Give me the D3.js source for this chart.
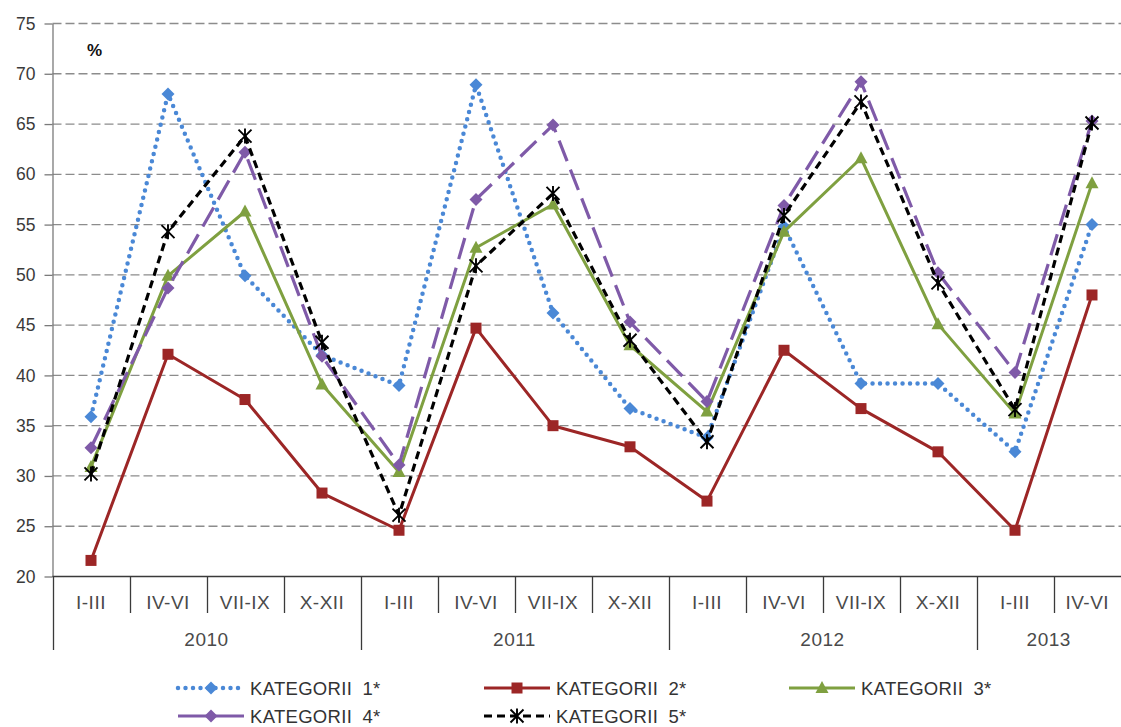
<!DOCTYPE html>
<html><head><meta charset="utf-8">
<script src="https://cdn.jsdelivr.net/npm/d3@7"></script>
<style>
body{margin:0;background:#fff;}
svg{display:block;font-family:"Liberation Sans",Arial,sans-serif;}
</style>
</head><body>
<svg id="chart" width="1121" height="727"></svg>
<script>
// ---- data ----
const quarters = ["I-III","IV-VI","VII-IX","X-XII","I-III","IV-VI","VII-IX","X-XII","I-III","IV-VI","VII-IX","X-XII","I-III","IV-VI"];
const years    = ["2010","2010","2010","2010","2011","2011","2011","2011","2012","2012","2012","2012","2013","2013"];
const yTicks   = [20,25,30,35,40,45,50,55,60,65,70,75];
const seriesNames = ["KATEGORII 1*","KATEGORII 2*","KATEGORII 3*","KATEGORII 4*","KATEGORII 5*"];
const kat1 = [35.9,68.0,49.9,42.0, 39.0,68.9,46.2,36.7, 33.8,54.8,39.2,39.2, 32.4,55.0];
const kat2 = [21.6,42.1,37.6,28.3, 24.6,44.7,35.0,32.9, 27.5,42.5,36.7,32.4, 24.6,48.0];
const kat3 = [30.9,49.9,56.3,39.1, 30.4,52.7,57.0,43.0, 36.4,54.3,61.6,45.1, 36.2,59.1];
const kat4 = [32.8,48.7,62.2,41.9, 31.1,57.5,64.9,45.3, 37.4,56.9,69.2,50.2, 40.3,65.3];
const kat5 = [30.2,54.3,63.8,43.3, 26.1,50.9,58.1,43.5, 33.4,55.9,67.2,49.2, 36.6,65.1];
const unitLabel = "%";

// ---- styles ----
const styles = [
  {color:"#4a88d6", width:4.5, dash:"0,7.5", cap:"round", marker:"diamond", legendDash:"0,7.5"},
  {color:"#9c2626", width:3,   dash:null,    cap:"butt",  marker:"square",  legendDash:null},
  {color:"#7fa040", width:3,   dash:null,    cap:"butt",  marker:"triangle",legendDash:null},
  {color:"#7f5aa8", width:3.2, dash:"22,9",  cap:"butt",  marker:"diamond", legendDash:null},
  {color:"#000000", width:3.2, dash:"8,5",   cap:"butt",  marker:"star",    legendDash:"8,5"}
];
const seriesData = [kat1,kat2,kat3,kat4,kat5];

const W = 1121, H = 727;
const svg = d3.select("#chart");
const idx = d3.range(quarters.length);
const x = d3.scaleBand().domain(idx).range([52.5, 1130.5]);
const y = d3.scaleLinear().domain([20,75]).range([576.5, 23.5]);
const cx = i => x(i) + x.bandwidth()/2;

// gridlines
svg.append("g").selectAll("line").data(yTicks.filter(t=>t>20)).join("line")
  .attr("x1",52.5).attr("x2",W).attr("y1",d=>y(d)).attr("y2",d=>y(d))
  .attr("stroke","#8c8c8c").attr("stroke-width",1.3).attr("stroke-dasharray","9,4");

// y axis
const yAxis = svg.append("g").attr("transform","translate(52.5,0)")
  .call(d3.axisLeft(y).tickValues(yTicks).tickSize(8).tickSizeOuter(0).tickPadding(9));
yAxis.select(".domain").attr("stroke","#7a7a7a").attr("stroke-width",1.3);
yAxis.selectAll(".tick line").attr("stroke","#7a7a7a").attr("stroke-width",1.3);
yAxis.selectAll(".tick text").attr("fill","#3a3a3a").style("font-size","17.5px")
  .style("font-family","'Liberation Sans',Arial,sans-serif");

// x axis line
svg.append("line").attr("x1",52.5).attr("x2",W).attr("y1",y(20)).attr("y2",y(20))
  .attr("stroke","#3a3a3a").attr("stroke-width",1.3);

// category separators
const xg = svg.append("g");
idx.forEach(i=>{
  const x0 = x(i);
  const yearStart = i===0 || years[i]!==years[i-1];
  xg.append("line").attr("x1",Math.round(x0)+0.5).attr("x2",Math.round(x0)+0.5)
    .attr("y1",y(20)).attr("y2", yearStart?650:613)
    .attr("stroke","#3a3a3a").attr("stroke-width",1.3);
});
// quarter labels
idx.forEach(i=>{
  const x0 = x(i), x1 = Math.min(x(i)+x.bandwidth(), W);
  xg.append("text").attr("x",(x0+x1)/2).attr("y",609)
    .attr("text-anchor","middle").attr("fill","#4a4a4a")
    .style("font-size","19px").style("letter-spacing","0.5px").text(quarters[i]);
});
// year labels
const yearGroups = d3.groups(idx, i=>years[i]);
yearGroups.forEach(([yr, is])=>{
  const x0 = x(is[0]), x1 = Math.min(x(is[is.length-1])+x.bandwidth(), W);
  xg.append("text").attr("x",(x0+x1)/2).attr("y",646)
    .attr("text-anchor","middle").attr("fill","#4a4a4a")
    .style("font-size","19px").style("letter-spacing","0.5px").text(yr);
});

// % label
svg.append("text").attr("x",87).attr("y",56).attr("fill","#111")
  .style("font-size","17px").style("font-weight","bold").text(unitLabel);

// marker drawing
function drawMarker(g, type, color){
  if(type==="diamond"){
    g.append("path").attr("d","M0,-6.5L6.5,0L0,6.5L-6.5,0Z").attr("fill",color);
  } else if(type==="square"){
    g.append("rect").attr("x",-5.5).attr("y",-5.5).attr("width",11).attr("height",11).attr("fill",color);
  } else if(type==="triangle"){
    g.append("path").attr("d","M0,-7L6.5,5L-6.5,5Z").attr("fill",color);
  } else if(type==="star"){
    g.append("path").attr("d","M-6.5,-6.5L6.5,6.5M-6.5,6.5L6.5,-6.5M0,-7.5L0,7.5").attr("stroke",color).attr("stroke-width",1.9).attr("fill","none");
  }
}

// series
const line = d3.line().x((d,i)=>cx(i)).y(d=>y(d));
seriesData.forEach((vals, s)=>{
  const st = styles[s];
  const g = svg.append("g");
  g.append("path").attr("d", line(vals)).attr("fill","none")
    .attr("stroke", st.color).attr("stroke-width", st.width)
    .attr("stroke-dasharray", st.dash).attr("stroke-linecap", st.cap)
    .attr("stroke-linejoin","round");
  vals.forEach((v,i)=>{
    const mg = g.append("g").attr("transform",`translate(${cx(i)},${y(v)})`);
    drawMarker(mg, st.marker, st.color);
  });
});

// legend
const legPos = [[178,688],[484,688],[789,688],[178,716],[484,716]];
seriesNames.forEach((name, s)=>{
  const st = styles[s];
  const [lx, ly] = legPos[s];
  const g = svg.append("g");
  g.append("line").attr("x1",lx).attr("x2",lx+66).attr("y1",ly).attr("y2",ly)
    .attr("stroke",st.color).attr("stroke-width",st.width)
    .attr("stroke-dasharray",st.legendDash).attr("stroke-linecap",st.cap);
  drawMarker(g.append("g").attr("transform",`translate(${lx+33},${ly})`), st.marker, st.color);
  const parts = name.split(" ");
  const t = g.append("text").attr("x",lx+72).attr("y",ly+6.5).attr("fill","#333")
    .style("font-size","18.5px").style("letter-spacing","0.3px");
  t.append("tspan").text(parts[0]+" ");
  t.append("tspan").attr("dx",5).text(parts[1]);
});
</script>
</body></html>
